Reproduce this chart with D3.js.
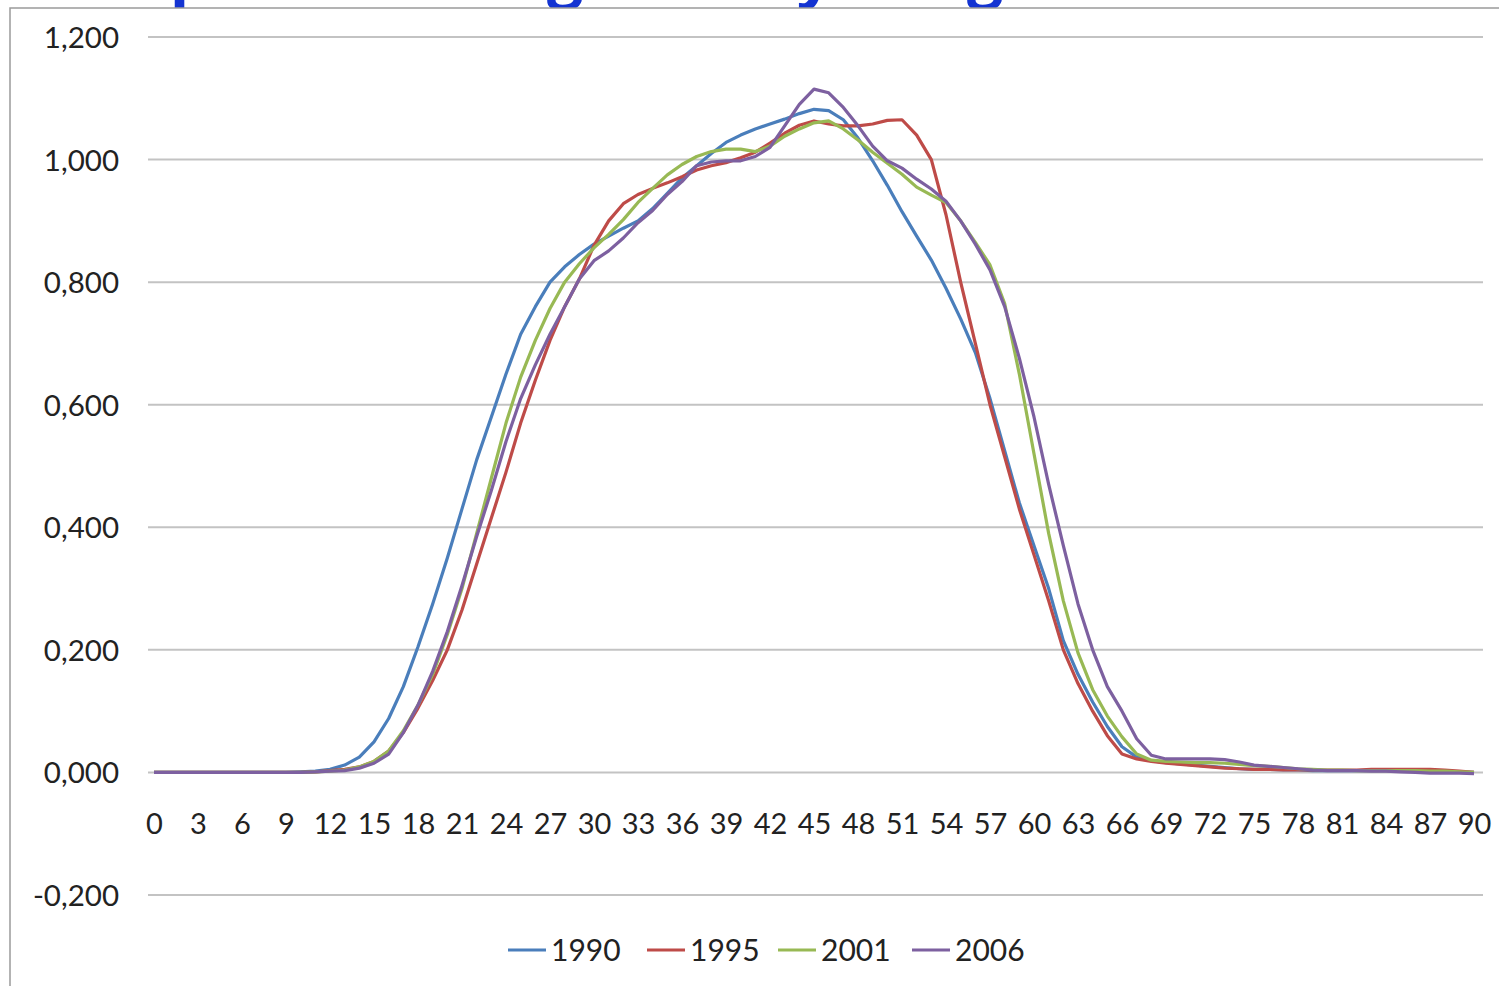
<!DOCTYPE html>
<html><head><meta charset="utf-8">
<script src="https://cdn.jsdelivr.net/npm/d3@7/dist/d3.min.js"></script>
<style>
body{margin:0;background:#fff;overflow:hidden;}
text{font-family:Lato,"Open Sans",sans-serif;}
</style>
</head><body>
<svg id="chart" width="1499" height="986"></svg>
<script>
const ages = [0,1,2,3,4,5,6,7,8,9,10,11,12,13,14,15,16,17,18,19,20,21,22,23,24,25,26,27,28,29,30,31,32,33,34,35,36,37,38,39,40,41,42,43,44,45,46,47,48,49,50,51,52,53,54,55,56,57,58,59,60,61,62,63,64,65,66,67,68,69,70,71,72,73,74,75,76,77,78,79,80,81,82,83,84,85,86,87,88,89,90];
const xTickLabels = [0,3,6,9,12,15,18,21,24,27,30,33,36,39,42,45,48,51,54,57,60,63,66,69,72,75,78,81,84,87,90];
const yTickValues = [-0.2,0,0.2,0.4,0.6,0.8,1.0,1.2];
const yTickLabels = ["-0,200","0,000","0,200","0,400","0,600","0,800","1,000","1,200"];
const seriesNames = ["1990","1995","2001","2006"];

const s1990 = [0,0,0,0,0,0,0,0,0,0,0.001,0.002,0.005,0.012,0.025,0.05,0.088,0.14,0.205,0.275,0.35,
0.43,0.51,0.58,0.65,0.715,0.76,0.8,0.825,0.845,0.862,
0.875,0.888,0.9,0.92,0.945,0.97,0.99,1.01,1.028,1.04,
1.05,1.058,1.066,1.075,1.082,1.08,1.065,1.035,0.998,0.958,
0.915,0.875,0.836,0.79,0.74,0.685,0.61,0.525,0.44,0.37,
0.3,0.215,0.16,0.115,0.075,0.042,0.025,0.019,0.016,0.014,
0.012,0.01,0.008,0.006,0.005,0.005,0.004,0.004,0.003,0.003,
0.003,0.003,0.003,0.003,0.003,0.003,0.002,0.002,0.001,0];

const s1995 = [0,0,0,0,0,0,0,0,0,0,0,0.001,0.003,0.005,0.009,0.018,0.035,0.065,0.105,0.15,0.2,
0.265,0.34,0.415,0.49,0.57,0.64,0.705,0.76,0.805,0.86,
0.9,0.928,0.943,0.953,0.962,0.972,0.983,0.99,0.995,1.003,
1.012,1.027,1.043,1.056,1.063,1.058,1.055,1.055,1.058,1.064,
1.065,1.04,1.0,0.91,0.8,0.7,0.6,0.515,0.43,0.355,
0.28,0.2,0.145,0.1,0.06,0.03,0.022,0.018,0.015,0.013,
0.011,0.009,0.007,0.006,0.005,0.005,0.004,0.004,0.004,0.004,
0.004,0.004,0.005,0.005,0.005,0.005,0.005,0.004,0.002,0];

const s2001 = [0,0,0,0,0,0,0,0,0,0,0,0.001,0.002,0.004,0.009,0.018,0.035,0.068,0.11,0.16,0.225,
0.3,0.39,0.48,0.57,0.645,0.705,0.757,0.8,0.83,0.856,
0.878,0.902,0.93,0.953,0.975,0.992,1.005,1.013,1.017,1.017,
1.013,1.022,1.038,1.05,1.06,1.063,1.05,1.032,1.012,0.994,
0.976,0.955,0.942,0.93,0.9,0.865,0.828,0.765,0.65,0.52,
0.39,0.28,0.195,0.135,0.092,0.058,0.03,0.02,0.018,0.017,
0.016,0.016,0.015,0.013,0.011,0.01,0.008,0.006,0.005,0.004,
0.004,0.003,0.003,0.003,0.003,0.003,0.002,0.002,0.001,0];

const s2006 = [0,0,0,0,0,0,0,0,0,0,0,0.001,0.002,0.003,0.007,0.015,0.03,0.065,0.11,0.165,0.23,
0.305,0.385,0.46,0.54,0.61,0.665,0.715,0.76,0.805,0.835,
0.851,0.872,0.897,0.917,0.943,0.964,0.99,0.996,0.998,0.998,
1.005,1.02,1.055,1.09,1.115,1.109,1.085,1.055,1.022,0.998,
0.986,0.968,0.952,0.932,0.9,0.862,0.82,0.76,0.676,0.58,
0.47,0.37,0.275,0.2,0.14,0.1,0.055,0.028,0.022,0.022,
0.022,0.022,0.021,0.017,0.012,0.01,0.008,0.006,0.004,0.003,
0.003,0.003,0.002,0.002,0.001,0,-0.001,-0.001,-0.001,-0.002];

const seriesValues = [s1990, s1995, s2001, s2006];
const colors = ["#4A7EBB","#BE4B48","#98B954","#7D60A0"];

const svg = d3.select("#chart");

// partially visible title above chart frame (only the descenders show)
const titleG = svg.append("g");
function placeWord(word, idx, cx) {
  const t = titleG.append("text").text(word)
    .attr("y", -5).attr("font-size", 64).attr("font-weight", "bold")
    .attr("fill", "#1434D2").style("font-family", "'Open Sans',sans-serif");
  const n = t.node();
  const a = n.getStartPositionOfChar(idx).x, b = n.getEndPositionOfChar(idx).x;
  t.attr("x", cx - (a + b) / 2);
}
placeWord("Shape", 3, 190);
placeWord("working life", 6, 565);
placeWord("by", 1, 815);
placeWord("age", 1, 985);

// chart frame
svg.append("rect").attr("x", 10).attr("y", 8).attr("width", 1500).attr("height", 990)
  .attr("fill", "#fff").attr("stroke", "#9a9a9a").attr("stroke-width", 1.5);

const left = 148, right = 1483;
const x = d3.scalePoint().domain(ages).range([154, 1474]);
const y = d3.scaleLinear().domain([-0.2, 1.2]).range([895, 37]);

// gridlines
svg.append("g").selectAll("line").data(yTickValues).join("line")
  .attr("x1", left).attr("x2", right)
  .attr("y1", d => y(d)).attr("y2", d => y(d))
  .attr("stroke", "#c3c3c3").attr("stroke-width", 2);

// y axis labels
const yAxis = d3.axisLeft(y).tickValues(yTickValues)
  .tickFormat((d, i) => yTickLabels[i]).tickSize(0).tickPadding(0);
const gy = svg.append("g").attr("transform", "translate(119,1)").call(yAxis);
gy.select(".domain").remove();
gy.selectAll("text").attr("font-size", 29.5).attr("fill", "#222").style("font-family", "Lato,sans-serif");

// x axis labels
const xAxis = d3.axisBottom(x).tickValues(xTickLabels).tickSize(0).tickPadding(0);
const gx = svg.append("g").attr("transform", `translate(0,${y(0) + 41})`).call(xAxis);
gx.select(".domain").remove();
gx.selectAll("text").attr("font-size", 29).attr("fill", "#222").style("font-family", "Lato,sans-serif");

// lines
const line = d3.line().x((d, i) => x(ages[i])).y(d => y(d));
svg.append("g").selectAll("path").data(seriesValues).join("path")
  .attr("d", d => line(d)).attr("fill", "none")
  .attr("stroke", (d, i) => colors[i]).attr("stroke-width", 3.2)
  .attr("stroke-linejoin", "round");

// legend
const legendItems = [{x: 508}, {x: 647}, {x: 778}, {x: 912}];
const lg = svg.append("g").selectAll("g").data(seriesNames).join("g")
  .attr("transform", (d, i) => `translate(${legendItems[i].x},950)`);
lg.append("line").attr("x1", 0).attr("x2", 38).attr("y1", 0).attr("y2", 0)
  .attr("stroke", (d, i) => colors[i]).attr("stroke-width", 3);
lg.append("text").attr("x", 43).attr("y", 10.5).text(d => d)
  .attr("font-size", 30).attr("fill", "#222");
</script>
</body></html>
